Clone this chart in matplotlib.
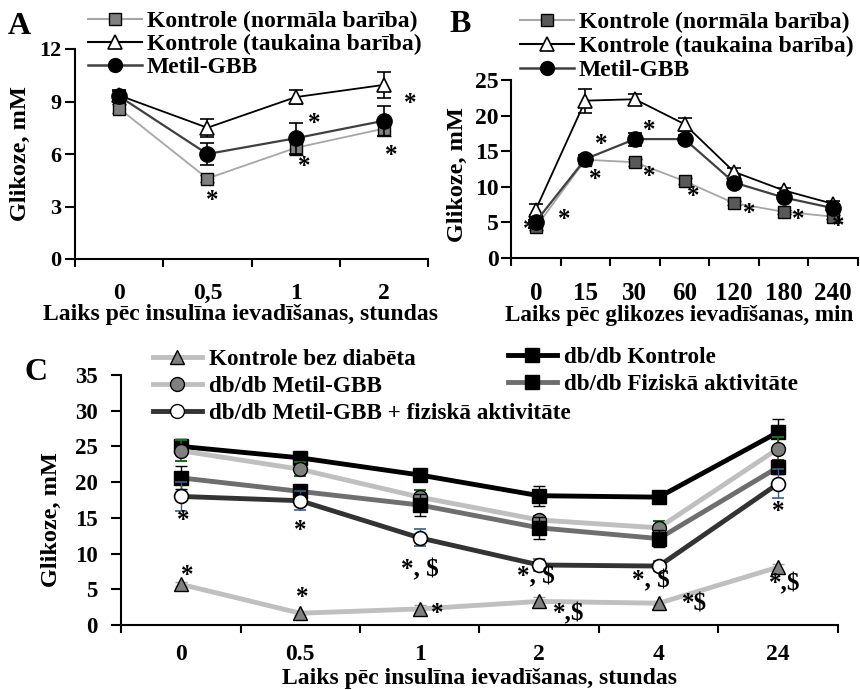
import matplotlib
matplotlib.use("Agg")
import matplotlib.pyplot as plt
from matplotlib.lines import Line2D
import numpy as np

plt.rcParams['font.family'] = ['Liberation Serif', 'DejaVu Serif']
plt.rcParams['font.weight'] = 'bold'

# ---------------- Panel A data ----------------
a_cats = ["0", "0,5", "1", "2"]
a_normal = [8.6, 4.6, 6.35, 7.45]
a_normal_err = [0.25, 0.2, 0.4, 0.4]
a_fat = [9.35, 7.5, 9.25, 9.95]
a_fat_err = [0.3, 0.5, 0.4, 0.75]
a_metil = [9.3, 6.0, 6.9, 7.9]
a_metil_err = [0.3, 0.65, 0.9, 0.85]
a_labels = ["Kontrole (normāla barība)", "Kontrole (taukaina barība)", "Metil-GBB"]
a_stars = [(1.06, 3.35, "*"), (2.21, 7.75, "*"), (2.1, 5.26, "*"),
           (3.3, 8.9, "*"), (3.08, 5.93, "*")]

# ---------------- Panel B data ----------------
b_cats = ["0", "15", "30", "60", "120", "180", "240"]
b_normal = [4.3, 13.8, 13.45, 10.8, 7.7, 6.5, 5.8]
b_normal_err = [0.3, 0.6, 0.5, 0.4, 0.3, 0.3, 0.3]
b_fat = [6.8, 22.1, 22.3, 18.8, 12.1, 9.5, 7.6]
b_fat_err = [0.8, 1.7, 0.8, 0.9, 0.6, 0.4, 0.4]
b_metil = [5.1, 13.9, 16.7, 16.7, 10.6, 8.5, 7.0]
b_metil_err = [0.5, 0.6, 0.9, 0.6, 0.4, 0.3, 0.3]
b_stars = [(-0.13, 4.0, "*"), (0.57, 5.4, "*"), (1.33, 16.0, "*"), (1.2, 11.0, "*"),
           (2.28, 17.9, "*"), (2.28, 11.5, "*"), (3.18, 8.6, "*"), (4.31, 6.2, "*"),
           (5.29, 5.4, "*"), (6.11, 4.4, "*")]

# ---------------- Panel C data ----------------
c_cats = ["0", "0.5", "1", "2", "4", "24"]
c_nodiab = [5.7, 1.65, 2.25, 3.3, 3.05, 8.1]
c_nodiab_err = [0.3, 0.2, 0.5, 0.6, 0.3, 0.5]
c_ctrl = [25.0, 23.4, 21.0, 18.1, 17.9, 27.0]
c_ctrl_err = [1.0, 0.8, 0.8, 1.4, 0.8, 1.9]
c_metil = [24.4, 21.8, 17.9, 14.7, 13.6, 24.7]
c_metil_err = [1.5, 1.0, 1.0, 0.6, 1.0, 1.6]
c_fiz = [20.6, 18.7, 16.8, 13.6, 12.1, 22.1]
c_fiz_err = [1.6, 0.8, 1.5, 1.5, 1.2, 1.0]
c_mfiz = [18.0, 17.4, 12.2, 8.4, 8.25, 19.8]
c_mfiz_err = [2.0, 1.3, 1.2, 0.9, 0.7, 2.0]
c_labels = ["Kontrole bez diabēta", "db/db Kontrole", "db/db Metil-GBB",
            "db/db Fiziskā aktivitāte", "db/db Metil-GBB + fiziskā aktivitāte"]
c_stars = [(0.02, 14.7, "*"), (0.05, 6.95, "*"), (1.0, 13.3, "*"), (1.02, 3.9, "*"),
           (2.0, 7.66, "*, $"), (2.15, 1.64, "*"), (2.97, 6.7, "*, $"), (3.25, 1.55, "*,$"),
           (3.93, 6.25, "*, $"), (4.3, 2.96, "*$"), (5.0, 15.9, "*"), (5.05, 5.78, "*,$")]

fig = plt.figure(figsize=(8.6, 6.9), dpi=100)


def style_axes(ax, cats, ylim, yticks, ytick_pad, xtick_pad, spine_w=1.5, tick_fs=16, xtick_fs=17):
    n = len(cats)
    x = np.arange(n)
    ax.set_xlim(-0.5, n - 0.5)
    ax.set_ylim(*ylim)
    ax.spines['top'].set_visible(False)
    ax.spines['right'].set_visible(False)
    ax.spines['left'].set_linewidth(spine_w)
    ax.spines['bottom'].set_linewidth(spine_w)
    ax.set_xticks(np.arange(n + 1) - 0.5)
    ax.set_xticklabels([])
    ax.set_xticks(x, minor=True)
    ax.set_xticklabels(cats, minor=True, fontsize=xtick_fs, fontweight='bold')
    ax.tick_params(axis='x', which='major', direction='out', length=6, width=spine_w)
    ax.tick_params(axis='x', which='minor', length=0, pad=xtick_pad)
    ax.set_yticks(yticks)
    ax.tick_params(axis='y', direction='out', length=7, width=spine_w, pad=ytick_pad,
                   labelsize=tick_fs)
    for t in ax.get_yticklabels():
        t.set_fontweight('bold')
    return x


def draw_ab(ax, normal, nerr, fat, ferr, metil, merr, x, normal_face, msize):
    ax.errorbar(x, normal, yerr=nerr, color='#a6a6a6', lw=1.3, ecolor='black', elinewidth=1.2,
                capsize=5, capthick=1.2, marker='s', ms=msize, mfc=normal_face, mec='black',
                mew=1.0, zorder=3)
    ax.errorbar(x, fat, yerr=ferr, color='black', lw=1.3, ecolor='black', elinewidth=1.2,
                capsize=5, capthick=1.2, marker='^', ms=msize + 1, mfc='white', mec='black',
                mew=1.2, zorder=4)
    ax.errorbar(x, metil, yerr=merr, color='#404040', lw=1.6, ecolor='black', elinewidth=1.2,
                capsize=5, capthick=1.2, marker='o', ms=msize + 2, mfc='black', mec='black',
                zorder=5)


STAR_FS = 18

# ---------------- Panel A ----------------
axA = fig.add_axes([75 / 860, 1 - 259 / 690, (428 - 75) / 860, (259 - 49) / 690])
xA = style_axes(axA, a_cats, (0, 12), [0, 3, 6, 9, 12], 3, 17.5)
draw_ab(axA, a_normal, a_normal_err, a_fat, a_fat_err, a_metil, a_metil_err, xA, '#808080', 9)
for sx, sy, s in a_stars:
    axA.text(sx, sy, s, ha='center', va='center', fontsize=STAR_FS, fontweight='bold', zorder=10)
axA.set_ylabel("Glikoze, mM", fontsize=17.5, fontweight='bold', labelpad=6)
axA.set_xlabel("Laiks pēc insulīna ievadīšanas, stundas", fontsize=17, fontweight='bold',
               labelpad=0, x=0.47)
fig.text(8 / 860, 1 - 27 / 690, "A", fontsize=23, fontweight='bold', va='center')

# ---------------- Panel B ----------------
axB = fig.add_axes([511 / 860, 1 - 258 / 690, (858 - 511) / 860, (258 - 80) / 690])
xB = style_axes(axB, b_cats, (0, 25), [0, 5, 10, 15, 20, 25], 2, 17, tick_fs=17, xtick_fs=18)
draw_ab(axB, b_normal, b_normal_err, b_fat, b_fat_err, b_metil, b_metil_err, xB, '#595959', 9)
for sx, sy, s in b_stars:
    axB.text(sx, sy, s, ha='center', va='center', fontsize=STAR_FS, fontweight='bold', zorder=10)
axB.set_ylabel("Glikoze, mM", fontsize=17.5, fontweight='bold', labelpad=5, y=0.47)
axB.set_xlabel("Laiks pēc glikozes ievadīšanas, min", fontsize=16.7, fontweight='bold',
               labelpad=0, x=0.485)
fig.text(449 / 860, 1 - 25 / 690, "B", fontsize=23, fontweight='bold', va='center')

# legends A and B
def ab_handles(normal_face):
    return [Line2D([], [], color='#a6a6a6', lw=1.5, marker='s', ms=9, mfc=normal_face, mec='black'),
            Line2D([], [], color='black', lw=1.5, marker='^', ms=10, mfc='white', mec='black', mew=1.2),
            Line2D([], [], color='#404040', lw=1.8, marker='o', ms=10, mfc='black', mec='black')]

for hx, top, ls, face in [(88, 10.5, 0.06, '#808080'), (520, 11.5, 0.1, '#595959')]:
    fig.legend(handles=ab_handles(face), labels=a_labels, loc='upper left',
               bbox_to_anchor=(hx / 860, 1 - top / 690), frameon=False,
               prop={'weight': 'bold', 'size': 17}, handlelength=2.3, handletextpad=0.2,
               labelspacing=ls, borderpad=0, borderaxespad=0)

# ---------------- Panel C ----------------
axC = fig.add_axes([121 / 860, 1 - 625 / 690, (838 - 121) / 860, (625 - 375) / 690])
xC = style_axes(axC, c_cats, (0, 35), [0, 5, 10, 15, 20, 25, 30, 35], 10, 13.5,
                spine_w=1.5, tick_fs=16.5, xtick_fs=17)
lwc = 3.5
axC.errorbar(xC, c_nodiab, yerr=c_nodiab_err, color='#bfbfbf', lw=lwc, ecolor='#a0a0a0',
             elinewidth=1, capsize=4, marker='^', ms=10, mfc='#808080', mec='black', zorder=3)
axC.errorbar(xC, c_ctrl, yerr=c_ctrl_err, color='black', lw=lwc, ecolor='black',
             elinewidth=1, capsize=4, marker='s', ms=10, mfc='black', mec='black', zorder=4)
axC.errorbar(xC, c_metil, yerr=c_metil_err, color='#bfbfbf', lw=lwc, ecolor='#1e6b1e',
             elinewidth=1.2, capsize=4, capthick=1.5, marker='o', ms=10, mfc='#808080',
             mec='black', zorder=5)
axC.errorbar(xC, c_fiz, yerr=c_fiz_err, color='#6e6e6e', lw=lwc, ecolor='black',
             elinewidth=1, capsize=4, marker='s', ms=10, mfc='black', mec='black', zorder=6)
axC.errorbar(xC, c_mfiz, yerr=c_mfiz_err, color='#333333', lw=lwc, ecolor='#3a5f8a',
             elinewidth=1, capsize=4, marker='o', ms=10, mfc='white', mec='black', mew=1.2,
             zorder=7)
for sx, sy, s in c_stars:
    axC.text(sx, sy, s, ha='center', va='center', fontsize=STAR_FS, fontweight='bold', zorder=10)
axC.set_ylabel("Glikoze, mM", fontsize=17.5, fontweight='bold')
axC.yaxis.set_label_coords(-0.082, 0.42)
axC.set_xlabel("Laiks pēc insulīna ievadīšanas, stundas", fontsize=17, fontweight='bold',
               labelpad=2)
fig.text(25 / 860, 1 - 373 / 690, "C", fontsize=23, fontweight='bold', va='center')

hC = [Line2D([], [], color='#bfbfbf', lw=lwc, marker='^', ms=10, mfc='#808080', mec='black'),
      Line2D([], [], color='black', lw=lwc, marker='s', ms=10, mfc='black', mec='black'),
      Line2D([], [], color='#bfbfbf', lw=lwc, marker='o', ms=10, mfc='#808080', mec='black'),
      Line2D([], [], color='#6e6e6e', lw=lwc, marker='s', ms=10, mfc='black', mec='black'),
      Line2D([], [], color='#333333', lw=lwc, marker='o', ms=10, mfc='white', mec='black')]
fig.legend(handles=[hC[0], hC[2], hC[4]], labels=[c_labels[0], c_labels[2], c_labels[4]],
           loc='upper left', bbox_to_anchor=(153 / 860, 1 - 349 / 690), frameon=False,
           prop={'weight': 'bold', 'size': 16.7}, handlelength=2.1, handletextpad=0.3,
           labelspacing=0.25, borderpad=0, borderaxespad=0)
fig.legend(handles=[hC[1], hC[3]], labels=[c_labels[1], c_labels[3]],
           loc='upper left', bbox_to_anchor=(508 / 860, 1 - 347 / 690), frameon=False,
           prop={'weight': 'bold', 'size': 16.7}, handlelength=2.1, handletextpad=0.3,
           labelspacing=0.25, borderpad=0, borderaxespad=0)

fig.savefig("out.png", dpi=100)
